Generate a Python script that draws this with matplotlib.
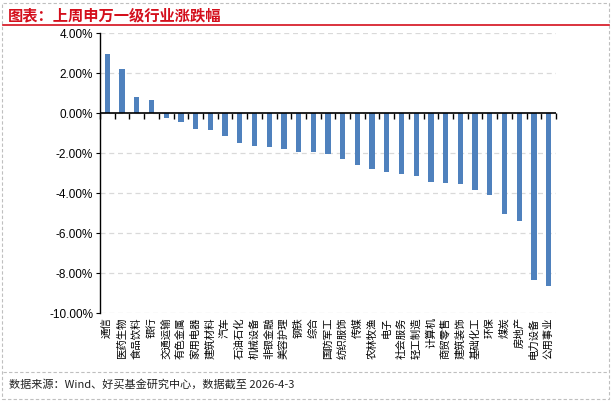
import numpy as np
import matplotlib
matplotlib.use("Agg")
import matplotlib.pyplot as plt
from matplotlib.patches import Rectangle
from matplotlib.lines import Line2D

# 上周申万一级行业涨跌幅 (%)
industries = ["通信", "医药生物", "食品饮料", "银行", "交通运输", "有色金属", "家用电器",
              "建筑材料", "汽车", "石油石化", "机械设备", "非银金融", "美容护理", "钢铁",
              "综合", "国防军工", "纺织服饰", "传媒", "农林牧渔", "电子", "社会服务",
              "轻工制造", "计算机", "商贸零售", "建筑装饰", "基础化工", "环保", "煤炭",
              "房地产", "电力设备", "公用事业"]
changes = [2.97, 2.22, 0.82, 0.67, -0.23, -0.43, -0.78,
           -0.83, -1.13, -1.48, -1.63, -1.68, -1.78, -1.97,
           -1.97, -2.07, -2.28, -2.58, -2.78, -2.93, -3.03,
           -3.13, -3.43, -3.48, -3.53, -3.83, -4.08, -5.03,
           -5.38, -8.33, -8.63]
y_ticks = [4, 2, 0, -2, -4, -6, -8, -10]

title = "图表：上周申万一级行业涨跌幅"
source = "数据来源：Wind、好买基金研究中心，数据截至 2026-4-3"

plt.rcParams['font.family'] = ['Liberation Sans', 'Noto Sans CJK SC', 'DejaVu Sans']

W, H = 613, 401
fig = plt.figure(figsize=(W / 100, H / 100), dpi=100)

# frame, title and footer decorations
fig.add_artist(Rectangle((2 / W, 2 / H), 607 / W, 396 / H, transform=fig.transFigure,
                         fill=False, ec='#BFBFBF', lw=0.8, ls=(0, (3, 2))))
fig.text(8 / W, 1 - 15 / H, title, color='#D40F1C', fontsize=11, fontweight='bold',
         family=['Noto Sans CJK SC'], va='center', ha='left')
fig.add_artist(Line2D([3 / W, 609 / W], [1 - 25 / H, 1 - 25 / H], transform=fig.transFigure,
                      color='#D40F1C', lw=1.2))
fig.add_artist(Line2D([3 / W, 609 / W], [1 - 372 / H, 1 - 372 / H], transform=fig.transFigure,
                      color='#BFBFBF', lw=0.8, ls=(0, (3, 2))))
fig.text(9 / W, 1 - 384 / H, source, fontsize=8, family=['Noto Sans CJK SC', 'DejaVu Sans'],
         va='center', ha='left', color='#222222')

ax = fig.add_axes([100 / W, (H - 313) / H, 456 / W, 280 / H])
x = np.arange(len(industries))
ax.bar(x, changes, width=0.36, color='#4F81BD', zorder=3)
ax.axhline(0, color='black', lw=1.2, zorder=4)

ymin, ymax = -10, 4
ax.set_ylim(ymin, ymax)
ax.set_xlim(-0.5, len(industries) - 0.5)
ax.set_yticks(y_ticks)
ax.set_yticklabels([f"{v:.2f}%" for v in y_ticks], fontsize=8.5)
ax.yaxis.grid(True, ls=(0, (4, 3)), color='#D9D9D9', lw=0.9, zorder=0)
ax.tick_params(axis='y', direction='out', length=3, width=0.8, pad=2)

ax.set_xticks(x)
ax.set_xticklabels(industries, rotation=90, fontsize=7.5, family=['Noto Sans CJK SC'])
ax.tick_params(axis='x', length=0, pad=3)

for s in ['top', 'right', 'bottom']:
    ax.spines[s].set_visible(False)
ax.spines['left'].set_linewidth(1.0)

# ticks at category boundaries on the zero axis
sec = ax.secondary_xaxis((0 - ymin) / (ymax - ymin))
sec.xaxis.set_ticks_position('bottom')
sec.set_xticks(np.arange(-0.5, len(industries), 1.0))
sec.set_xticklabels([])
sec.tick_params(axis='x', which='both', direction='out', length=4, width=1.0,
                top=False, bottom=True, labeltop=False, labelbottom=False)
sec.spines['top'].set_visible(False)

fig.savefig("out.png", dpi=100)
